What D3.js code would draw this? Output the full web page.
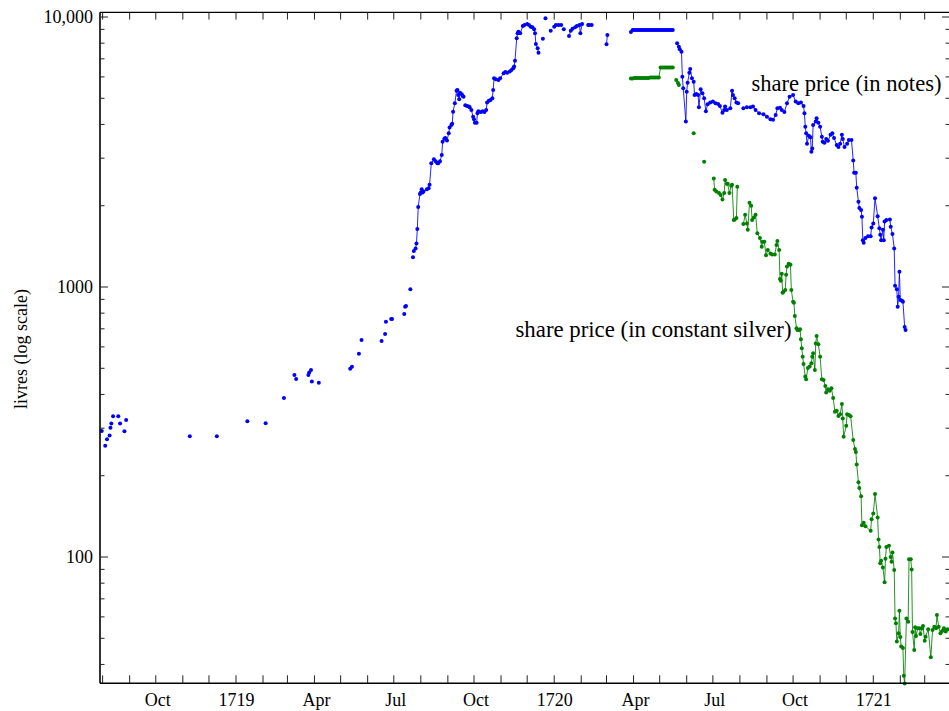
<!DOCTYPE html>
<html><head><meta charset="utf-8">
<script src="https://cdn.jsdelivr.net/npm/d3@7/dist/d3.min.js"></script>
<style>
body{margin:0;background:#fff}
svg{display:block}
text{font-family:"Liberation Serif","Times New Roman",serif;fill:#000}
</style>
</head><body>
<svg id="chart" width="949" height="711"></svg>
<script>
// ---- data: share price in notes (livres), early sparse quotations (dots only)
const notesSparse = [
["1718-07-31",293],["1718-08-04",258],["1718-08-06",273],["1718-08-09",282],["1718-08-10",301],["1718-08-11",312],
["1718-08-13",332],["1718-08-19",332],["1718-08-21",312],["1718-08-26",292],["1718-08-28",322],["1718-11-09",280],
["1718-12-10",280],["1719-01-14",318],["1719-02-04",313],["1719-02-25",388],["1719-03-09",472],["1719-03-11",456],
["1719-03-25",472],["1719-03-26",482],["1719-03-28",493],["1719-03-29",447],["1719-04-06",442],["1719-05-12",498],
["1719-05-14",507],["1719-05-22",566],["1719-05-25",636],["1719-06-17",631],["1719-06-21",670],["1719-06-22",744],
["1719-06-28",761],["1719-06-29",761],["1719-07-13",794],["1719-07-14",845],["1719-07-15",850],["1719-07-20",980],
["1719-07-23",1290]
];
// share price in notes, daily quotations (null = break in the series)
const notesDaily = [
["1719-07-24",1360],["1719-07-26",1390],["1719-07-27",1450],["1719-07-28",1640],["1719-07-29",1980],["1719-07-31",2210],
["1719-08-01",2240],["1719-08-02",2300],["1719-08-03",2240],["1719-08-04",2260],["1719-08-08",2300],["1719-08-10",2320],
["1719-08-11",2390],["1719-08-13",2870],["1719-08-16",2970],["1719-08-18",2920],["1719-08-20",2870],["1719-08-21",2870],
["1719-08-23",2920],["1719-08-25",3080],["1719-08-26",3450],["1719-08-28",3540],["1719-08-29",3560],["1719-08-31",3490],
["1719-09-02",3710],["1719-09-03",3900],["1719-09-05",3980],["1719-09-06",4020],["1719-09-07",4460],["1719-09-09",4790],
["1719-09-11",5330],["1719-09-12",5370],["1719-09-13",5140],["1719-09-14",4960],["1719-09-15",5240],["1719-09-17",5170],
["1719-09-18",5100],["1719-09-19",5070],null,
["1719-09-21",4710],["1719-09-23",4680],["1719-09-25",4660],["1719-09-26",4630],["1719-09-28",4520],["1719-09-30",4270],
["1719-10-01",4180],["1719-10-02",4060],["1719-10-04",4060],["1719-10-05",4400],["1719-10-06",4480],["1719-10-09",4450],
["1719-10-11",4480],["1719-10-13",4450],["1719-10-15",4520],["1719-10-16",4820],["1719-10-18",4900],["1719-10-20",4930],
["1719-10-22",5000],["1719-10-23",5370],["1719-10-24",5930],["1719-10-26",5880],["1719-10-29",5840],["1719-10-31",5930],
["1719-11-04",6190],["1719-11-06",6260],["1719-11-08",6220],["1719-11-11",6280],["1719-11-13",6370],["1719-11-15",6460],
["1719-11-16",6550],["1719-11-17",6890],["1719-11-19",8340],["1719-11-20",8700],["1719-11-21",8820],["1719-11-23",8700],
["1719-11-26",9260],["1719-11-28",9340],["1719-12-01",9420],["1719-12-03",9340],["1719-12-05",9210],["1719-12-07",9160],
["1719-12-09",9000],["1719-12-10",8700],["1719-12-11",7940],["1719-12-13",7660],["1719-12-14",7370],null,
["1719-12-19",8310],null,["1719-12-22",9890],null,["1719-12-28",8900],null,
["1720-01-01",9210],["1720-01-03",9340],["1720-01-06",9340],["1720-01-09",9340],null,["1720-01-12",9000],null,
["1720-01-18",8500],["1720-01-20",8900],["1720-01-22",9050],["1720-01-25",9160],["1720-01-27",9260],["1720-01-30",9340],
["1720-01-31",8700],["1720-02-02",9420],null,
["1720-02-09",9340],["1720-02-10",9340],["1720-02-13",9340],null,
["1720-03-01",7920],["1720-03-02",8580],null,
["1720-03-29",8800],["1720-03-31",8950],["1720-04-02",8950],["1720-04-04",8950],["1720-04-06",8950],["1720-04-08",8950],
["1720-04-10",8950],["1720-04-12",8950],["1720-04-14",8950],["1720-04-16",8950],["1720-04-18",8950],["1720-04-20",8950],
["1720-04-22",8950],["1720-04-24",8950],["1720-04-26",8950],["1720-04-28",8950],["1720-04-30",8950],["1720-05-02",8950],
["1720-05-04",8950],["1720-05-06",8950],["1720-05-08",8950],["1720-05-10",8950],["1720-05-12",8950],["1720-05-14",8950],
["1720-05-16",8950],null,
["1720-05-21",7990],["1720-05-23",7760],["1720-05-24",7590],["1720-05-26",7440],["1720-05-27",6010],["1720-05-28",5450],
["1720-05-31",4100],["1720-06-01",5290],["1720-06-02",5710],["1720-06-04",6220],["1720-06-05",6420],["1720-06-07",5930],
["1720-06-09",5760],["1720-06-10",5140],["1720-06-12",5190],["1720-06-14",5140],["1720-06-15",4630],["1720-06-17",5400],
["1720-06-19",5220],["1720-06-21",5000],["1720-06-23",4480],["1720-06-25",4750],["1720-06-28",4820],["1720-07-01",4860],
["1720-07-04",4790],["1720-07-07",4760],["1720-07-09",4680],["1720-07-12",4420],["1720-07-14",4520],["1720-07-15",4660],
["1720-07-17",4520],["1720-07-21",4590],["1720-07-23",5330],["1720-07-24",5140],["1720-07-26",5000],["1720-07-28",4820],
["1720-07-30",4790],null,
["1720-08-05",4590],["1720-08-09",4630],["1720-08-13",4630],["1720-08-16",4660],["1720-08-19",4520],["1720-08-23",4400],
["1720-08-28",4360],["1720-09-01",4270],["1720-09-05",4180],["1720-09-08",4160],["1720-09-11",4340],["1720-09-13",4590],
["1720-09-16",4610],["1720-09-18",4520],["1720-09-21",4450],["1720-09-24",4790],["1720-09-27",5070],["1720-10-01",5140],
["1720-10-04",4860],["1720-10-07",4790],["1720-10-10",4820],["1720-10-13",4680],["1720-10-14",4400],["1720-10-15",3920],
["1720-10-16",3710],["1720-10-17",3390],["1720-10-19",3630],["1720-10-21",3590],["1720-10-22",3170],["1720-10-23",3260],
["1720-10-24",3980],["1720-10-27",4100],["1720-10-28",4220],["1720-10-30",4060],["1720-11-01",3920],["1720-11-03",3600],
["1720-11-04",3450],["1720-11-06",3420],["1720-11-08",3530],["1720-11-10",3480],["1720-11-13",3660],["1720-11-15",3710],
["1720-11-17",3560],["1720-11-20",3360],["1720-11-22",3300],["1720-11-24",3390],["1720-11-26",3660],["1720-11-27",3530],
["1720-11-29",3300],["1720-12-02",3390],["1720-12-04",3500],["1720-12-07",3500],["1720-12-09",2940],["1720-12-10",2650],
["1720-12-12",2650],["1720-12-13",2330],["1720-12-15",2070],["1720-12-16",1960],["1720-12-18",1930],["1720-12-19",1820],
["1720-12-20",1490],["1720-12-21",1460],["1720-12-23",1520],["1720-12-26",1540],["1720-12-29",1540],["1720-12-30",1660],
["1721-01-01",1720],["1721-01-03",2130],["1721-01-06",1830],["1721-01-08",1650],["1721-01-09",1560],["1721-01-10",1490],
["1721-01-12",1630],["1721-01-13",1490],["1721-01-14",1750],["1721-01-16",1770],["1721-01-20",1780],["1721-01-21",1670],
["1721-01-23",1570],["1721-01-25",1390],["1721-01-26",1010],["1721-01-28",980],["1721-01-29",845],["1721-01-30",921],
["1721-01-31",1140],["1721-02-01",895],["1721-02-03",890],["1721-02-04",882],["1721-02-06",711],["1721-02-07",693]
];
// share price in constant silver (livres), null = break
const silverDaily = [
["1720-03-29",5920],["1720-03-31",5920],["1720-04-02",5950],["1720-04-04",5950],["1720-04-06",5950],["1720-04-08",5950],
["1720-04-10",5950],["1720-04-12",5950],["1720-04-14",5950],["1720-04-16",5950],["1720-04-18",5950],["1720-04-20",5970],
["1720-04-22",5970],["1720-04-24",5970],["1720-04-26",5970],["1720-04-28",5970],["1720-04-30",5970],["1720-05-02",6500],
["1720-05-04",6500],["1720-05-06",6500],["1720-05-08",6500],["1720-05-10",6500],["1720-05-12",6500],["1720-05-14",6500],
["1720-05-16",6500],null,
["1720-05-20",5840],["1720-05-22",5700],["1720-05-23",5600],null,["1720-06-09",3710],null,["1720-06-21",2910],null,
["1720-07-02",2520],["1720-07-03",2290],["1720-07-05",2260],["1720-07-08",2230],["1720-07-10",2190],["1720-07-12",2110],
["1720-07-14",2230],["1720-07-15",2490],["1720-07-17",2410],["1720-07-18",2410],["1720-07-20",2230],["1720-07-22",2370],
["1720-07-23",2390],["1720-07-25",1770],["1720-07-26",1780],["1720-07-28",1800],["1720-07-29",2350],null,
["1720-08-05",1710],["1720-08-07",1850],["1720-08-09",1720],["1720-08-10",1630],["1720-08-12",2050],["1720-08-14",2000],
["1720-08-15",1770],["1720-08-17",1810],["1720-08-19",1850],["1720-08-21",1580],["1720-08-24",1520],["1720-08-26",1410],
["1720-08-27",1470],["1720-08-29",1470],["1720-08-31",1310],["1720-09-02",1370],["1720-09-05",1330],["1720-09-07",1320],
["1720-09-10",1320],["1720-09-12",1430],["1720-09-13",1480],["1720-09-15",1370],["1720-09-16",1070],["1720-09-17",1055],
["1720-09-18",1120],["1720-09-19",953],["1720-09-20",961],["1720-09-22",975],["1720-09-23",1110],["1720-09-24",1190],
["1720-09-26",1220],["1720-09-28",1210],["1720-09-29",975],["1720-10-01",882],["1720-10-02",875],["1720-10-03",781],
["1720-10-05",704],["1720-10-06",693],["1720-10-08",693],["1720-10-09",697],["1720-10-10",640],["1720-10-11",593],
["1720-10-12",552],["1720-10-13",519],["1720-10-15",466],["1720-10-16",455],["1720-10-18",501],["1720-10-20",508],
["1720-10-22",522],["1720-10-23",552],["1720-10-24",568],["1720-10-26",493],["1720-10-27",618],["1720-10-28",658],
["1720-10-30",614],["1720-11-01",552],["1720-11-03",455],["1720-11-05",452],["1720-11-07",430],["1720-11-08",407],
["1720-11-10",418],["1720-11-12",413],["1720-11-14",422],["1720-11-16",388],["1720-11-18",345],["1720-11-20",348],
["1720-11-22",333],["1720-11-24",338],["1720-11-26",369],["1720-11-27",326],["1720-11-28",279],["1720-12-01",306],
["1720-12-02",338],["1720-12-04",336],["1720-12-06",332],["1720-12-09",271],["1720-12-11",251],["1720-12-12",245],
["1720-12-13",220],["1720-12-15",189],["1720-12-16",180],["1720-12-18",168],["1720-12-19",131],["1720-12-21",134],
["1720-12-23",130],["1720-12-29",125],["1720-12-30",138],["1721-01-01",145],["1721-01-03",171],["1721-01-06",140],
["1721-01-07",116],["1721-01-08",109],["1721-01-09",94.8],["1721-01-10",96.9],["1721-01-12",91.5],["1721-01-14",80.6],
["1721-01-15",98.6],["1721-01-16",109],["1721-01-19",110],["1721-01-21",100],["1721-01-22",96.1],["1721-01-23",104],
["1721-01-25",89.5],["1721-01-26",59.2],["1721-01-27",56.8],["1721-01-28",48.6],["1721-01-30",52.2],["1721-01-31",63.2],
["1721-02-01",50.5],["1721-02-02",46.6],["1721-02-04",46.0],["1721-02-05",36.3],["1721-02-06",34.0],["1721-02-08",59.2],
["1721-02-10",57.6],["1721-02-11",98.0],["1721-02-13",98.0],["1721-02-14",89.9],["1721-02-15",52.8],["1721-02-17",45.2],
["1721-02-18",54.9],["1721-02-19",51.0],["1721-02-21",54.5],["1721-02-23",54.5],["1721-02-24",51.9],["1721-02-26",54.5],
["1721-02-27",55.5],["1721-03-01",49.0],["1721-03-02",50.7],["1721-03-05",54.0],["1721-03-08",42.5],["1721-03-10",53.7],
["1721-03-12",55.2],["1721-03-14",54.5],["1721-03-15",61.0],["1721-03-17",55.2],["1721-03-19",52.2],["1721-03-21",53.2],
["1721-03-23",54.5],["1721-03-25",53.0],["1721-03-27",54.0]
];
const yMajorTicks = [100, 1000, 10000];
const yMajorLabels = ["100", "1000", "10,000"];
const yMinorTicks = [40,50,60,70,80,90,200,300,400,500,600,700,800,900,2000,3000,4000,5000,6000,7000,8000,9000];
const monthNames = {3:"Apr", 6:"Jul", 9:"Oct"};
const seriesLabels = ["share price (in notes)", "share price (in constant silver)"];
const yAxisTitle = "livres (log scale)";
const xDomain = ["1718-07-29", "1721-03-30"];
const yDomain = [34.06, 10409];

// ---- drawing
const parse = d3.utcParse("%Y-%m-%d");
const svg = d3.select("#chart");
const L = 100, R = 950, T = 12.3, B = 683.3;
const x = d3.scaleUtc().domain(xDomain.map(parse)).range([L, R]);
const y = d3.scaleLog().domain(yDomain).range([B, T]);

const toPts = arr => arr.map(d => d ? {date: parse(d[0]), value: d[1]} : null);
const notesPts = toPts(notesDaily);
const silverPts = toPts(silverDaily);
const sparsePts = toPts(notesSparse);

const line = d3.line().defined(d => d !== null).x(d => x(d.date)).y(d => y(d.value));
const R_DOT = 2.0;

const plot = svg.append("g");
function drawSeries(pts, color) {
  plot.append("path").datum(pts).attr("d", line)
    .attr("fill", "none").attr("stroke", color).attr("stroke-width", 1).attr("stroke-opacity", 0.85);
  plot.selectAll(null).data(pts.filter(d => d)).enter().append("circle")
    .attr("cx", d => x(d.date)).attr("cy", d => y(d.value)).attr("r", R_DOT).attr("fill", color);
}
drawSeries(silverPts, "#008000");
drawSeries(notesPts, "#0000ff");
plot.selectAll(null).data(sparsePts).enter().append("circle")
  .attr("cx", d => x(d.date)).attr("cy", d => y(d.value)).attr("r", R_DOT).attr("fill", "#0000ff");

// ---- axes frame
const ax = svg.append("g").attr("stroke", "#000");
ax.append("line").attr("x1", L).attr("x2", L).attr("y1", T).attr("y2", B).attr("stroke-width", 1.6);
ax.append("line").attr("x1", L).attr("x2", R).attr("y1", T).attr("y2", T).attr("stroke-width", 1.3);
ax.append("line").attr("x1", L).attr("x2", R).attr("y1", B).attr("y2", B).attr("stroke-width", 1.6);
ax.append("line").attr("x1", R).attr("x2", R).attr("y1", T).attr("y2", B).attr("stroke-width", 1.6);

const tk = svg.append("g").attr("stroke", "#222").attr("stroke-width", 1);
// y ticks
yMajorTicks.forEach(v => {
  tk.append("line").attr("x1", L).attr("x2", L + 8).attr("y1", y(v)).attr("y2", y(v));
  tk.append("line").attr("x1", R - 8).attr("x2", R).attr("y1", y(v)).attr("y2", y(v));
});
yMinorTicks.forEach(v => {
  tk.append("line").attr("x1", L).attr("x2", L + 4.5).attr("y1", y(v)).attr("y2", y(v));
  tk.append("line").attr("x1", R - 4.5).attr("x2", R).attr("y1", y(v)).attr("y2", y(v));
});
// x ticks (every month)
const months = d3.utcMonth.range(x.domain()[0], x.domain()[1]).filter(d => x(d) >= L);
months.forEach(m => {
  tk.append("line").attr("x1", x(m)).attr("x2", x(m)).attr("y1", B).attr("y2", B - 8);
  tk.append("line").attr("x1", x(m)).attr("x2", x(m)).attr("y1", T).attr("y2", T + 7.3);
});

// labels
const lab = svg.append("g").attr("font-size", 18);
yMajorTicks.forEach((v, i) => {
  lab.append("text").attr("x", L - 7).attr("y", y(v)).attr("dy", "0.35em")
    .attr("text-anchor", "end").text(yMajorLabels[i]);
});
months.forEach(m => {
  const mo = m.getUTCMonth();
  let t = null;
  if (mo === 0) t = String(m.getUTCFullYear());
  else if (monthNames[mo]) t = monthNames[mo];
  if (t) lab.append("text").attr("x", x(m) + (mo === 0 ? 0.5 : 2)).attr("y", 705.5)
    .attr("text-anchor", "middle").text(t);
});
lab.append("text").attr("transform", "translate(27,349) rotate(-90)")
  .attr("text-anchor", "middle").text(yAxisTitle);

// series annotations
svg.append("text").attr("x", 941.5).attr("y", 90.5).attr("text-anchor", "end")
  .attr("font-size", 22.6).text(seriesLabels[0]);
svg.append("text").attr("x", 791.5).attr("y", 337.3).attr("text-anchor", "end")
  .attr("font-size", 22.8).text(seriesLabels[1]);
</script>
</body></html>
